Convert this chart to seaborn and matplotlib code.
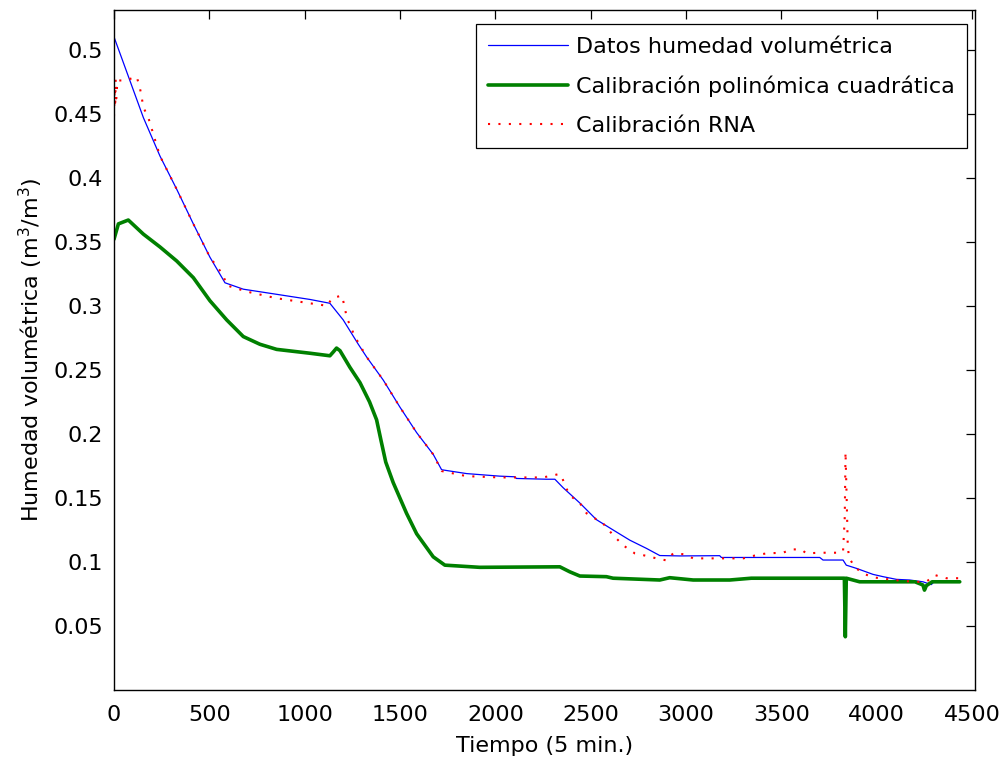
import matplotlib
matplotlib.use("Agg")
import matplotlib.pyplot as plt
import seaborn as sns
import pandas as pd

# ---- data ----
datos_x = [0, 154, 241, 329, 416, 503, 582, 678, 853, 1027, 1132, 1202, 1281, 1325, 1412,
           1499, 1587, 1674, 1718, 1849, 2023, 2102, 2110, 2268, 2312, 2355, 2443, 2530, 2617,
           2705, 2792, 2862, 2967, 3176, 3185, 3701, 3718, 3823, 3840, 3893, 3945, 3980, 4033,
           4103, 4172, 4242, 4286, 4300, 4400, 4435]
datos_y = [0.510, 0.447, 0.417, 0.391, 0.364, 0.338, 0.318, 0.313, 0.309, 0.305, 0.302, 0.289,
           0.270, 0.260, 0.242, 0.221, 0.201, 0.184, 0.172, 0.169, 0.167, 0.1665, 0.1652, 0.1646,
           0.1646, 0.158, 0.146, 0.133, 0.125, 0.117, 0.1106, 0.105, 0.1047, 0.1049, 0.1035,
           0.1035, 0.1015, 0.1015, 0.0975, 0.095, 0.0922, 0.0903, 0.0885, 0.0864, 0.0859, 0.0845,
           0.0823, 0.0845, 0.0843, 0.0843]

poli_x = [0, 23, 75, 154, 241, 329, 416, 503, 591, 678, 765, 853, 1027, 1132, 1150, 1167, 1185,
          1237, 1290, 1340, 1377, 1400, 1425, 1464, 1534, 1587, 1674, 1735, 1918, 2338, 2390,
          2443, 2582, 2617, 2862, 2914, 3037, 3229, 3342, 3830, 3835, 3840, 3875, 3910, 4200,
          4242, 4250, 4260, 4290, 4435]
poli_y = [0.352, 0.364, 0.367, 0.356, 0.346, 0.335, 0.322, 0.304, 0.289, 0.276, 0.270, 0.266,
          0.263, 0.261, 0.264, 0.267, 0.265, 0.252, 0.240, 0.225, 0.211, 0.195, 0.178, 0.162,
          0.138, 0.122, 0.104, 0.0975, 0.0958, 0.0962, 0.0923, 0.089, 0.0885, 0.0873, 0.0859,
          0.0877, 0.0859, 0.0859, 0.0873, 0.0873, 0.0416, 0.0873, 0.0859, 0.0845, 0.0845, 0.082,
          0.078, 0.0815, 0.0845, 0.0845]

rna_x = [0, 3, 6, 9, 12, 18, 23, 60, 119, 136, 145, 154, 180, 241, 329, 416, 503, 573, 590, 700,
         850, 1027, 1120, 1142, 1195, 1210, 1220, 1263, 1325, 1412, 1499, 1587, 1674, 1718, 1849,
         2023, 2250, 2330, 2345, 2364, 2390, 2443, 2478, 2565, 2617, 2670, 2731, 2775, 2845, 2897,
         2932, 2990, 3037, 3300, 3360, 3421, 3508, 3552, 3604, 3630, 3700, 3797, 3823, 3832, 3836,
         3842, 3848, 3856, 3884, 3928, 3980, 4085, 4190, 4260, 4303, 4365, 4435]
rna_y = [0.448, 0.470, 0.455, 0.477, 0.462, 0.476, 0.476, 0.476, 0.479, 0.470, 0.463, 0.455,
         0.447, 0.417, 0.391, 0.364, 0.338, 0.324, 0.316, 0.311, 0.306, 0.302, 0.300, 0.306,
         0.308, 0.299, 0.291, 0.276, 0.260, 0.242, 0.221, 0.201, 0.184, 0.171, 0.167, 0.166,
         0.166, 0.1685, 0.168, 0.160, 0.152, 0.146, 0.138, 0.130, 0.121, 0.113, 0.1067, 0.1053,
         0.1028, 0.1012, 0.1067, 0.106, 0.1028, 0.1028, 0.105, 0.1067, 0.1072, 0.1098, 0.1098,
         0.1067, 0.1072, 0.1072, 0.108, 0.135, 0.186, 0.150, 0.111, 0.103, 0.096, 0.091, 0.088,
         0.086, 0.0845, 0.0845, 0.0898, 0.0873, 0.0873]

labels = ["Datos humedad volumétrica", "Calibración polinómica cuadrática", "Calibración RNA"]
x_ticks = [0, 500, 1000, 1500, 2000, 2500, 3000, 3500, 4000, 4500]
y_ticks = [0.05, 0.1, 0.15, 0.2, 0.25, 0.3, 0.35, 0.4, 0.45, 0.5]
y_ticklabels = ["0.05", "0.1", "0.15", "0.2", "0.25", "0.3", "0.35", "0.4", "0.45", "0.5"]

# ---- style ----
sns.set_style("white")
plt.rcParams["font.family"] = ["DejaVu Sans"]
plt.rcParams["text.color"] = "black"
plt.rcParams["axes.labelcolor"] = "black"
plt.rcParams["xtick.color"] = "black"
plt.rcParams["ytick.color"] = "black"
FS = 16

fig = plt.figure(figsize=(10, 7.6), dpi=100)
ax = fig.add_axes([0.114, 0.0921, 0.861, 0.8947])

df_d = pd.DataFrame({"x": datos_x, "y": datos_y})
df_p = pd.DataFrame({"x": poli_x, "y": poli_y})
df_r = pd.DataFrame({"x": rna_x, "y": rna_y})

sns.lineplot(data=df_d, x="x", y="y", ax=ax, color="#0000ff", linewidth=0.9,
             sort=False, estimator=None, label=labels[0])
sns.lineplot(data=df_p, x="x", y="y", ax=ax, color="#008000", linewidth=2.6,
             sort=False, estimator=None, label=labels[1])
sns.lineplot(data=df_r, x="x", y="y", ax=ax, color="#ff0000", linewidth=1.5,
             linestyle=(0, (1, 4)), sort=False, estimator=None, label=labels[2])

ax.set_xlim(0, 4515)
ax.set_ylim(0, 0.531)
ax.set_xticks(x_ticks)
ax.set_xticklabels([str(t) for t in x_ticks])
ax.set_yticks(y_ticks)
ax.set_yticklabels(y_ticklabels)

ax.set_xlabel("Tiempo (5 min.)", fontsize=FS, labelpad=8)
ax.set_ylabel("Humedad volumétrica (m$^3$/m$^3$)", fontsize=FS, labelpad=6)

ax.tick_params(direction="in", length=6.5, width=0.9, top=True, right=True,
               labelsize=FS, colors="black")
ax.tick_params(axis="x", pad=11)
ax.tick_params(axis="y", pad=8)
for sp in ax.spines.values():
    sp.set_visible(True)
    sp.set_color("black")
    sp.set_linewidth(1.0)

leg = ax.legend(loc="upper right", bbox_to_anchor=(0.9907, 0.979), borderaxespad=0,
                fontsize=FS, frameon=True, fancybox=False, shadow=False,
                handlelength=3.6, handletextpad=0.35, labelspacing=0.85,
                borderpad=0.55)
leg.get_frame().set_edgecolor("black")
leg.get_frame().set_linewidth(0.9)
leg.get_frame().set_alpha(1)
for t in leg.get_texts():
    t.set_color("black")

fig.savefig("out.png", dpi=100, facecolor="white")
